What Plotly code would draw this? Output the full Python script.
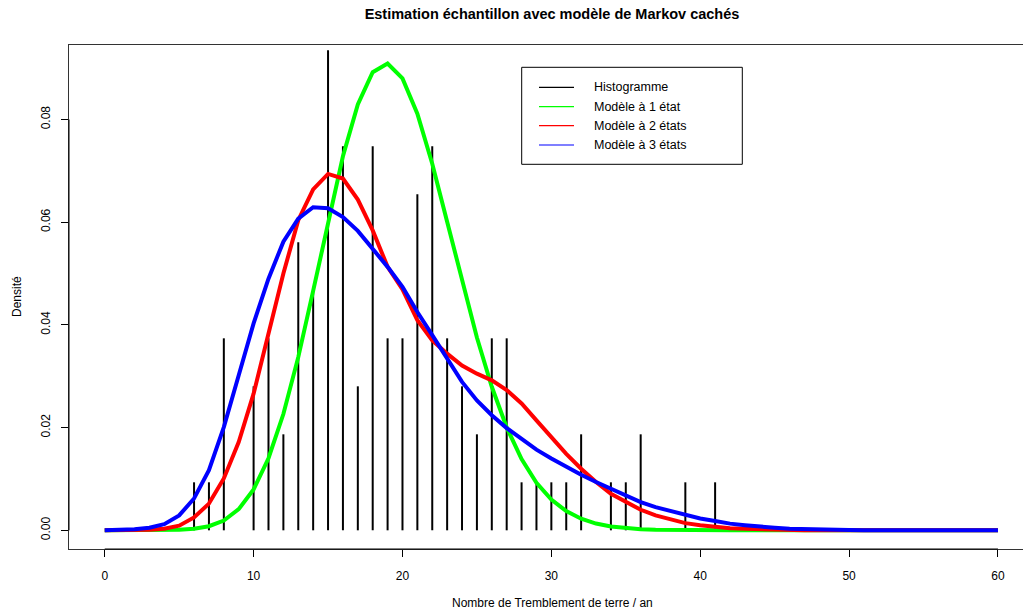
import plotly.graph_objects as go

# ---------------- data ----------------
hist_x = [6, 7, 8, 10, 11, 12, 13, 14, 15, 16, 17, 18, 19, 20, 21, 22, 23, 24, 25,
          26, 27, 28, 29, 30, 31, 32, 34, 35, 36, 39, 41]
hist_counts = [1, 1, 4, 3, 4, 2, 6, 5, 10, 8, 3, 8, 4, 4, 7, 8, 4, 3, 2,
               4, 4, 1, 1, 1, 1, 2, 1, 1, 2, 1, 1]
n_years = 107

x_grid = list(range(0, 61))

dens_1 = [0, 0, 0, 0.000005, 0.000023, 0.000089, 0.000286, 0.000791, 0.00191, 0.00412,
          0.00797, 0.01403, 0.02264, 0.03372, 0.04663, 0.06019, 0.07283, 0.08294, 0.08921, 0.0909,
          0.08799, 0.08112, 0.07139, 0.06009, 0.04847, 0.03754, 0.02795, 0.02004, 0.01386, 0.00925,
          0.00597, 0.00373, 0.00226, 0.00132, 0.000754, 0.000417, 0.000224, 0.000117, 0.00006, 0.00003,
          0.000014, 0.000007, 0, 0, 0, 0, 0, 0, 0, 0,
          0, 0, 0, 0, 0, 0, 0, 0, 0, 0, 0]

dens_2 = [0, 0, 0.00002, 0.0001, 0.0003, 0.0009, 0.0025, 0.0052, 0.0101, 0.0172,
          0.0266, 0.038, 0.050, 0.0604, 0.0664, 0.0694, 0.0685, 0.0644, 0.0584, 0.0513,
          0.0469, 0.0409, 0.037, 0.0344, 0.0321, 0.0305, 0.0292, 0.0273, 0.0247, 0.0214,
          0.0182, 0.0149, 0.012, 0.0094, 0.0071, 0.0055, 0.004, 0.0029, 0.0021, 0.0014,
          0.0010, 0.0007, 0.0004, 0.0003, 0.0002, 0.0001, 0.00005, 0.00003, 0, 0,
          0, 0, 0, 0, 0, 0, 0, 0, 0, 0, 0]

dens_3 = [0.00001, 0.00005, 0.0002, 0.0005, 0.0012, 0.0029, 0.0062, 0.0117, 0.0201, 0.0302,
          0.0403, 0.049, 0.0562, 0.0607, 0.0629, 0.0627, 0.061, 0.0583, 0.0549, 0.0513,
          0.0474, 0.0425, 0.038, 0.0334, 0.0289, 0.0253, 0.0224, 0.0199, 0.0177, 0.0157,
          0.014, 0.0123, 0.0108, 0.0094, 0.0081, 0.0068, 0.0055, 0.0045, 0.0037, 0.0029,
          0.0023, 0.0018, 0.0013, 0.0010, 0.0007, 0.0005, 0.0003, 0.0002, 0.00012, 0.00007,
          0.00004, 0.00002, 0.00001, 0, 0, 0, 0, 0, 0, 0, 0]

legend_labels = ["Histogramme", "Modèle à 1 état", "Modèle à 2 états", "Modèle à 3 états"]
legend_colors = ["#000000", "#00FF00", "#FF0000", "#0000FF"]

title = "Estimation échantillon avec modèle de Markov cachés"
x_title = "Nombre de Tremblement de terre / an"
y_title = "Densité"

# ---------------- figure ----------------
W, H = 1023, 614
ML, MT, MB, MR = 69, 45, 65, 0
PW, PH = W - ML - MR, H - MT - MB
FONT = "Liberation Sans, Arial, Helvetica, sans-serif"


def px2paper(px, py):
    return (px - ML) / PW, (H - MB - py) / PH


fig = go.Figure()

# histogram (type="h")
hx, hy = [], []
for xv, c in zip(hist_x, hist_counts):
    hx += [xv, xv, None]
    hy += [0, c / n_years, None]
fig.add_trace(go.Scatter(x=hx, y=hy, mode="lines", line=dict(color="black", width=2),
                         showlegend=False, hoverinfo="skip"))

for ys, col in [(dens_1, "#00FF00"), (dens_2, "#FF0000"), (dens_3, "#0000FF")]:
    fig.add_trace(go.Scatter(x=x_grid, y=ys, mode="lines", line=dict(color=col, width=4),
                             showlegend=False))

shapes = []
annotations = []

# axis segments (R style)
shapes.append(dict(type="line", xref="x", yref="paper", x0=0, x1=60, y0=0, y1=0,
                   line=dict(color="black", width=1)))
shapes.append(dict(type="line", xref="paper", yref="y", x0=0, x1=0, y0=0, y1=0.08,
                   line=dict(color="black", width=1)))

# legend box
bx0, by0 = px2paper(521.7, 67.3)
bx1, by1 = px2paper(742.3, 164.3)
shapes.append(dict(type="rect", xref="paper", yref="paper", x0=bx0, x1=bx1, y0=by1, y1=by0,
                   line=dict(color="black", width=1), fillcolor="white", layer="above"))
rows_y = [87.3, 106.7, 125.7, 145.0]
for lab, col, ry in zip(legend_labels, legend_colors, rows_y):
    lx0, ly = px2paper(539, ry)
    lx1, _ = px2paper(574, ry)
    shapes.append(dict(type="line", xref="paper", yref="paper", x0=lx0, x1=lx1, y0=ly, y1=ly,
                       line=dict(color=col, width=1.2), layer="above"))
    tx, _ = px2paper(591.5, ry)
    annotations.append(dict(xref="paper", yref="paper", x=tx, y=ly, text=lab, showarrow=False,
                            xanchor="left", yanchor="middle",
                            font=dict(family=FONT, size=12.5, color="black")))

# axis titles
ax, ay = px2paper(552, 603)
annotations.append(dict(xref="paper", yref="paper", x=ax, y=ay, text=x_title, showarrow=False,
                        xanchor="center", yanchor="middle",
                        font=dict(family=FONT, size=12, color="black")))
yx, yy = px2paper(17, 297)
annotations.append(dict(xref="paper", yref="paper", x=yx, y=yy, text=y_title, showarrow=False,
                        textangle=-90, xanchor="center", yanchor="middle",
                        font=dict(family=FONT, size=12, color="black")))

fig.update_layout(
    width=W, height=H,
    margin=dict(l=ML, r=MR, t=MT, b=MB),
    paper_bgcolor="white", plot_bgcolor="white",
    title=dict(text="<b>" + title + "</b>", xref="container", yref="container",
               x=552 / W, y=1 - 14 / H, xanchor="center", yanchor="middle",
               font=dict(family=FONT, size=14.5, color="black")),
    shapes=shapes,
    annotations=annotations,
    showlegend=False,
    xaxis=dict(range=[-2.4, (W - 105) / 14.883], tickvals=[0, 10, 20, 30, 40, 50, 60],
               showgrid=False, zeroline=False, showline=True, mirror=True,
               linecolor="#333333", linewidth=1,
               ticks="outside", ticklen=7, tickcolor="black", tickwidth=1,
               ticklabelstandoff=9,
               tickfont=dict(family=FONT, size=12, color="black")),
    yaxis=dict(range=[-0.00364, 0.0945], tickvals=[0, 0.02, 0.04, 0.06, 0.08],
               ticktext=["0.00", "0.02", "0.04", "0.06", "0.08"],
               tickangle=-90,
               showgrid=False, zeroline=False, showline=True, mirror=False,
               linecolor="#333333", linewidth=1,
               ticks="outside", ticklen=7, tickcolor="black", tickwidth=1,
               ticklabelstandoff=6,
               tickfont=dict(family=FONT, size=12, color="black")),
)

fig.write_html(
    "out.html",
    config={"displayModeBar": False},
    post_script="document.body.style.margin='0px';document.body.style.overflow='hidden';",
)
